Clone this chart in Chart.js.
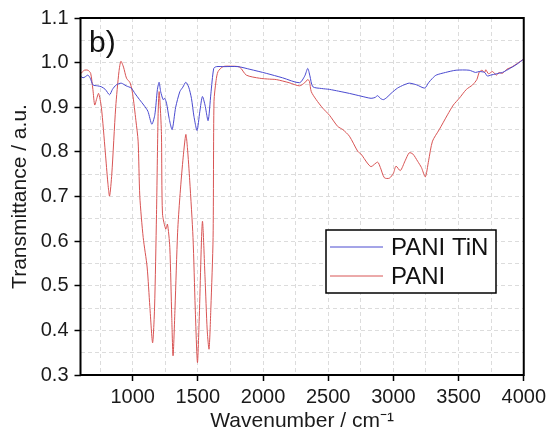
<!DOCTYPE html>
<html lang="en">
<head>
    <meta charset="UTF-8">
    <title>FTIR PANI / PANI TiN</title>
    <script src="https://cdn.jsdelivr.net/npm/chart.js"></script>
    <style>
        body { margin: 0; background: #fff; }
        #wrap { width: 550px; height: 434px; }
    </style>
</head>
<body>
<div id="wrap"><canvas id="ftir" width="550" height="434"></canvas></div>
<script>
    // PANI TiN (blue)
    const tinWn = [600, 619, 635, 657, 675, 696, 730, 759, 790, 823, 845, 874, 912, 950, 989, 1020, 1053, 1085, 1117, 1147,
        1170, 1190, 1203, 1215, 1234, 1245, 1260, 1280, 1303, 1330, 1362, 1385, 1408, 1430, 1451, 1470, 1494, 1515, 1535, 1555,
        1579, 1600, 1622, 1642, 1700, 1808, 1900, 2025, 2150, 2280, 2320, 2343, 2360, 2382, 2450, 2510, 2580, 2663, 2750, 2829,
        2860, 2879, 2900, 2923, 2950, 2982, 3032, 3080, 3122, 3180, 3240, 3270, 3300, 3328, 3400, 3481, 3581, 3630, 3658, 3700,
        3720, 3747, 3790, 3836, 3900, 3950, 4000];
    const tinT = [0.970, 0.966, 0.968, 0.972, 0.965, 0.950, 0.948, 0.946, 0.940, 0.928, 0.940, 0.950, 0.954, 0.948, 0.943, 0.930, 0.917, 0.905, 0.891, 0.862,
        0.883, 0.940, 0.956, 0.935, 0.917, 0.920, 0.909, 0.875, 0.850, 0.900, 0.935, 0.945, 0.956, 0.945, 0.920, 0.880, 0.848, 0.890, 0.924, 0.905,
        0.870, 0.930, 0.987, 0.991, 0.991, 0.991, 0.985, 0.976, 0.966, 0.955, 0.970, 0.987, 0.970, 0.946, 0.942, 0.940, 0.936, 0.931, 0.925, 0.920,
        0.922, 0.926, 0.920, 0.917, 0.922, 0.931, 0.943, 0.950, 0.954, 0.950, 0.943, 0.955, 0.965, 0.972, 0.978, 0.983, 0.983, 0.978, 0.980, 0.978,
        0.970, 0.972, 0.975, 0.978, 0.988, 0.997, 1.008];

    // PANI (red)
    const paniWn = [600, 630, 657, 678, 695, 709, 725, 739, 760, 790, 810, 823, 840, 870, 895, 910, 930, 953, 980, 1000,
        1025, 1042, 1055, 1081, 1111, 1132, 1153, 1168, 1183, 1195, 1203, 1212, 1221, 1229, 1254, 1267, 1285, 1300, 1310, 1325,
        1345, 1362, 1385, 1408, 1420, 1438, 1463, 1480, 1497, 1510, 1535, 1555, 1572, 1586, 1600, 1617, 1624, 1640, 1655, 1693,
        1750, 1821, 1872, 1974, 2050, 2102, 2200, 2280, 2320, 2343, 2356, 2370, 2408, 2458, 2510, 2573, 2612, 2663, 2727, 2752,
        2800, 2829, 2879, 2900, 2931, 2969, 3000, 3020, 3053, 3090, 3122, 3150, 3186, 3215, 3245, 3270, 3300, 3352, 3415, 3460,
        3505, 3560, 3607, 3640, 3658, 3680, 3700, 3709, 3730, 3760, 3790, 3810, 3836, 3870, 3913, 3950, 4000];
    const paniT = [0.975, 0.983, 0.983, 0.976, 0.940, 0.905, 0.920, 0.931, 0.900, 0.800, 0.730, 0.701, 0.750, 0.900, 0.980, 1.003, 0.990, 0.965, 0.955, 0.930,
        0.870, 0.824, 0.700, 0.608, 0.542, 0.453, 0.372, 0.450, 0.660, 0.880, 0.935, 0.900, 0.839, 0.661, 0.627, 0.638, 0.586, 0.430, 0.343, 0.450,
        0.620, 0.698, 0.780, 0.839, 0.810, 0.735, 0.608, 0.450, 0.328, 0.420, 0.644, 0.520, 0.400, 0.358, 0.450, 0.608, 0.913, 0.960, 0.980, 0.991,
        0.992, 0.990, 0.972, 0.965, 0.963, 0.962, 0.955, 0.948, 0.955, 0.962, 0.958, 0.935, 0.917, 0.898, 0.882, 0.857, 0.850, 0.835, 0.801, 0.795,
        0.775, 0.767, 0.777, 0.765, 0.742, 0.741, 0.752, 0.768, 0.758, 0.780, 0.798, 0.795, 0.779, 0.765, 0.744, 0.780, 0.824, 0.850, 0.883, 0.905,
        0.920, 0.940, 0.950, 0.962, 0.978, 0.983, 0.978, 0.984, 0.975, 0.980, 0.972, 0.978, 0.976, 0.985, 0.991, 0.998, 1.008];

    const xMajor = [1000, 1500, 2000, 2500, 3000, 3500, 4000];
    const yMajor = [0.3, 0.4, 0.5, 0.6, 0.7, 0.8, 0.9, 1.0, 1.1];

    const font = "'Liberation Sans', Arial, sans-serif";
    const pts = (xs, ys) => xs.map((x, i) => ({ x: x, y: ys[i] }));
    const isMajorX = v => xMajor.includes(v);
    const isMajorY = v => yMajor.some(m => Math.abs(m - v) < 1e-6);

    // frame, panel letter and legend drawn on top
    const extras = {
        id: 'extras',
        afterDraw(chart) {
            const { ctx, chartArea: a } = chart;
            ctx.save();
            ctx.strokeStyle = '#000';
            ctx.lineWidth = 2;
            ctx.strokeRect(a.left, a.top, a.right - a.left, a.bottom - a.top);

            ctx.fillStyle = '#111';
            ctx.font = '30px ' + font;
            ctx.textBaseline = 'alphabetic';
            ctx.fillText('b)', 89, 52);

            // legend box
            const bx = 326, by = 230, bw = 170, bh = 63;
            ctx.fillStyle = '#fff';
            ctx.fillRect(bx, by, bw, bh);
            ctx.lineWidth = 1.5;
            ctx.strokeRect(bx, by, bw, bh);
            ctx.font = '24px ' + font;
            ctx.textBaseline = 'middle';
            chart.data.datasets.forEach((ds, i) => {
                const yy = by + 17 + i * 29;
                ctx.strokeStyle = ds.borderColor;
                ctx.lineWidth = 1;
                ctx.beginPath();
                ctx.moveTo(bx + 4, yy);
                ctx.lineTo(bx + 57, yy);
                ctx.stroke();
                ctx.fillStyle = '#111';
                ctx.fillText(ds.label, bx + 65, yy + 1);
            });
            ctx.restore();
        }
    };

    new Chart(document.getElementById('ftir'), {
        type: 'line',
        data: {
            datasets: [
                { label: 'PANI TiN', data: pts(tinWn, tinT), borderColor: '#4a4ad0', borderWidth: 1, pointRadius: 0, tension: 0.25 },
                { label: 'PANI', data: pts(paniWn, paniT), borderColor: '#d85454', borderWidth: 1, pointRadius: 0, tension: 0.25 }
            ]
        },
        options: {
            responsive: false,
            animation: false,
            layout: { padding: { top: 16, right: 26, left: 0, bottom: 0 } },
            plugins: { legend: { display: false }, tooltip: { enabled: false } },
            scales: {
                x: {
                    type: 'linear', min: 600, max: 4000,
                    afterBuildTicks: s => {
                        const t = [];
                        for (let v = 750; v <= 4000; v += 250) t.push({ value: v });
                        s.ticks = t;
                    },
                    afterFit: s => { s.height = 59; },
                    ticks: {
                        autoSkip: false, maxRotation: 0, padding: 4, color: '#1a1a1a',
                        font: { family: font, size: 20 },
                        callback: v => isMajorX(v) ? String(v) : ''
                    },
                    grid: {
                        color: '#dcdcdc', lineWidth: 1, tickLength: 6, tickWidth: 1.5,
                        tickColor: c => isMajorX(c.tick.value) ? '#000' : 'rgba(0,0,0,0)'
                    },
                    border: { display: false, dash: [4, 3] },
                    title: { display: true, text: 'Wavenumber / cm⁻¹', color: '#1a1a1a', font: { family: font, size: 21 }, padding: { top: 0, bottom: 0 } }
                },
                y: {
                    min: 0.3, max: 1.1,
                    afterBuildTicks: s => {
                        const t = [];
                        for (let i = 0; i <= 16; i++) t.push({ value: Math.round((0.3 + i * 0.05) * 100) / 100 });
                        s.ticks = t;
                    },
                    afterFit: s => { s.width = 80.5; },
                    ticks: {
                        autoSkip: false, padding: 6, color: '#1a1a1a',
                        font: { family: font, size: 20 },
                        callback: v => isMajorY(v) ? v.toFixed(1) : ''
                    },
                    grid: {
                        color: '#dcdcdc', lineWidth: 1, tickLength: 6, tickWidth: 1.5,
                        tickColor: c => isMajorY(c.tick.value) ? '#000' : 'rgba(0,0,0,0)'
                    },
                    border: { display: false, dash: [4, 3] },
                    title: { display: true, text: 'Transmittance / a.u.', color: '#1a1a1a', font: { family: font, size: 21 }, padding: { top: 8, bottom: 0 } }
                }
            }
        },
        plugins: [extras]
    });
</script>
</body>
</html>
